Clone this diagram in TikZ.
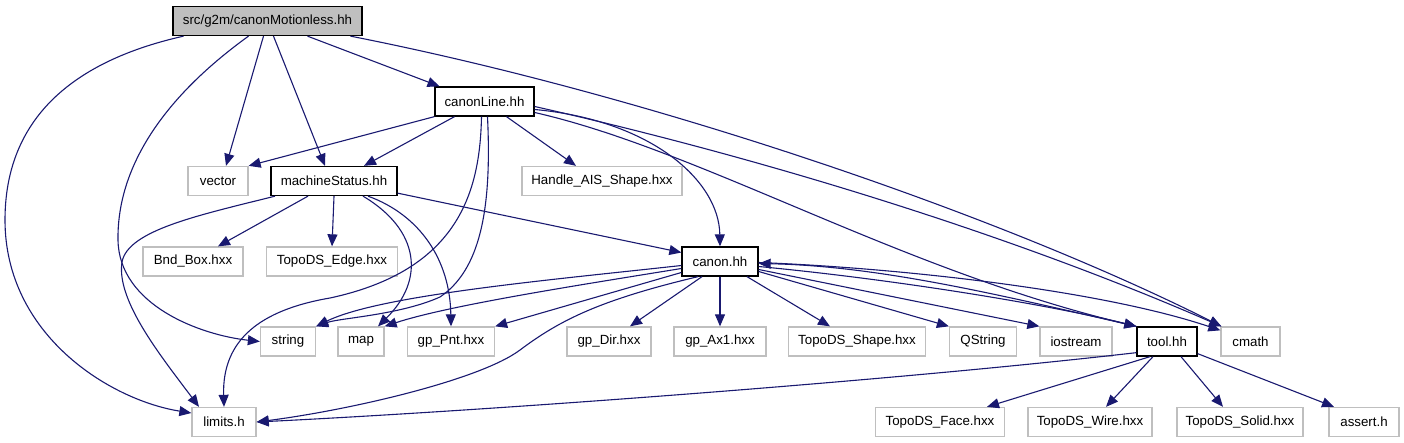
\documentclass[tikz,border=0pt]{standalone}
\usepackage{fontspec}
\setmainfont{Liberation Sans}
\usepackage{xcolor}
\usetikzlibrary{arrows.meta}
\definecolor{edgeblue}{RGB}{25,25,112}
\definecolor{boxgray}{RGB}{191,191,191}
\tikzset{
doxbox/.style={draw=black,line width=1.3pt,fill=white,minimum height=29pt,inner sep=0pt,font=\fontsize{13.3pt}{16pt}\selectfont},
extbox/.style={doxbox,draw=boxgray},
dep/.style={draw=edgeblue,line width=1.1pt,-{Triangle[length=12pt,width=10pt]}}
}
\begin{document}
\begin{tikzpicture}[x=1pt,y=-1pt]
\useasboundingbox (0,0) rectangle (1404,443);
\node[doxbox,fill=boxgray,minimum width=189pt](root) at (267.5,21){src/g2m/canonMotionless.hh};
\node[doxbox,minimum width=99pt](cl) at (484.5,101.5){canonLine.hh};
\node[extbox,minimum width=60pt](vec) at (218,181){vector};
\node[doxbox,minimum width=126pt](ms) at (334,181){machineStatus.hh};
\node[extbox,minimum width=160pt](handle) at (602,181){Handle\_AIS\_Shape.hxx};
\node[extbox,minimum width=100pt](bnd) at (193,261.5){Bnd\_Box.hxx};
\node[extbox,minimum width=131pt](topoedge) at (332,261.5){TopoDS\_Edge.hxx};
\node[doxbox,minimum width=76pt](canon) at (720,261.5){canon.hh};
\node[extbox,minimum width=55pt](str) at (288,341.5){string};
\node[extbox,minimum width=46pt](map) at (361,341.5){map};
\node[extbox,minimum width=87pt](pnt) at (451,341.5){gp\_Pnt.hxx};
\node[extbox,minimum width=84pt](dir) at (609,341.5){gp\_Dir.hxx};
\node[extbox,minimum width=92pt](ax) at (720,341.5){gp\_Ax1.hxx};
\node[extbox,minimum width=137pt](shape) at (857,341.5){TopoDS\_Shape.hxx};
\node[extbox,minimum width=67pt](qstr) at (983,341.5){QString};
\node[extbox,minimum width=72pt](ios) at (1076,341.5){iostream};
\node[doxbox,minimum width=60pt](tool) at (1167,341.5){tool.hh};
\node[extbox,minimum width=59pt](cmath) at (1250.5,341.5){cmath};
\node[extbox,minimum width=64pt](limits) at (224,422){limits.h};
\node[extbox,minimum width=129pt](face) at (940,422){TopoDS\_Face.hxx};
\node[extbox,minimum width=124pt](wire) at (1090,422){TopoDS\_Wire.hxx};
\node[extbox,minimum width=126pt](solid) at (1240,422){TopoDS\_Solid.hxx};
\node[extbox,minimum width=70pt](assert) at (1364,422){assert.h};
\draw[dep]([xshift=-84pt]root.south) .. controls (100,55) and (5,100) .. (5,220) .. controls (5,335) and (110,400) .. ([yshift=9pt]limits.west);
\draw[dep]([xshift=-19pt]root.south) .. controls (160,100) and (117,170) .. (118,240) .. controls (119,305) and (200,335) .. (str.west);
\draw[dep]([xshift=-4pt]root.south)--([xshift=8pt]vec.north);
\draw[dep]([xshift=6pt]root.south)--([xshift=-9pt]ms.north);
\draw[dep]([xshift=40pt]root.south)--([xshift=-45pt]cl.north);
\draw[dep]([xshift=83pt]root.south) .. controls (650,95) and (1000,215) .. ([xshift=1pt]cmath.north west);
\draw[dep](cl.south west)--(vec.north east);
\draw[dep]([xshift=-30pt]cl.south)--([xshift=30pt]ms.north);
\draw[dep]([xshift=22pt]cl.south)--([xshift=-26pt]handle.north);
\draw[dep]([yshift=-8pt]cl.east) .. controls (650,120) and (719,180) .. (canon.north);
\draw[dep]([yshift=-11pt]cl.east) .. controls (700,150) and (900,270) .. (tool.north west);
\draw[dep]([yshift=-5pt]cl.east) .. controls (750,155) and (1000,230) .. ([xshift=1pt]cmath.north west);
\draw[dep]([xshift=-3pt]cl.south) .. controls (480,190) and (460,270) .. (330,298) .. controls (260,310) and (222,340) .. (limits.north);
\draw[dep]([xshift=3pt]cl.south) .. controls (492,210) and (480,270) .. (440,297) .. controls (400,315) and (340,318) .. (str.north east);
\draw[dep]([xshift=-59pt]ms.south) .. controls (200,215) and (128,230) .. (122,262) .. controls (116,300) and (160,355) .. ([xshift=-25pt]limits.north);
\draw[dep]([xshift=-26pt]ms.south)--([xshift=25pt]bnd.north);
\draw[dep](ms.south)--(topoedge.north);
\draw[dep]([xshift=29pt]ms.south) .. controls (420,230) and (425,280) .. ([xshift=17pt]map.north);
\draw[dep]([xshift=34pt]ms.south) .. controls (420,215) and (450,260) .. (pnt.north);
\draw[dep]([yshift=3pt]ms.south east)--([yshift=9pt]canon.west);
\draw[dep]([yshift=-4pt]canon.west) .. controls (550,280) and (380,295) .. (str.north east);
\draw[dep]([yshift=-7pt]canon.west) .. controls (580,285) and (450,305) .. (map.north east);
\draw[dep]([yshift=-11pt]canon.west)--(pnt.north east);
\draw[dep]([xshift=-22pt]canon.south) .. controls (600,300) and (560,320) .. (520,350) .. controls (480,380) and (350,410) .. (limits.east);
\draw[dep]([xshift=-18pt]canon.south)--([xshift=21pt]dir.north);
\draw[dep](canon.south)--(ax.north);
\draw[dep]([xshift=27pt]canon.south)--([xshift=-27pt]shape.north);
\draw[dep]([yshift=-10pt]canon.east)--(qstr.north west);
\draw[dep]([yshift=-8pt]canon.east)--(ios.north west);
\draw[dep]([yshift=-5pt]canon.east) .. controls (900,280) and (1050,305) .. (tool.north west);
\draw[dep]([yshift=-1pt]canon.east) .. controls (900,268) and (1100,290) .. ([yshift=-4pt]cmath.north west);
\draw[dep](tool.north west) .. controls (1000,295) and (880,266) .. ([yshift=-2pt]canon.east);
\draw[dep]([yshift=4pt]tool.south west) .. controls (900,380) and (500,410) .. (limits.east);
\draw[dep]([xshift=-17pt]tool.south)--([xshift=47pt]face.north);
\draw[dep]([xshift=-14pt]tool.south)--([xshift=16pt]wire.north);
\draw[dep]([xshift=14pt]tool.south)--([xshift=-17pt]solid.north);
\draw[dep]([yshift=3pt]tool.south east)--([xshift=-30pt]assert.north);
\end{tikzpicture}
\end{document}
